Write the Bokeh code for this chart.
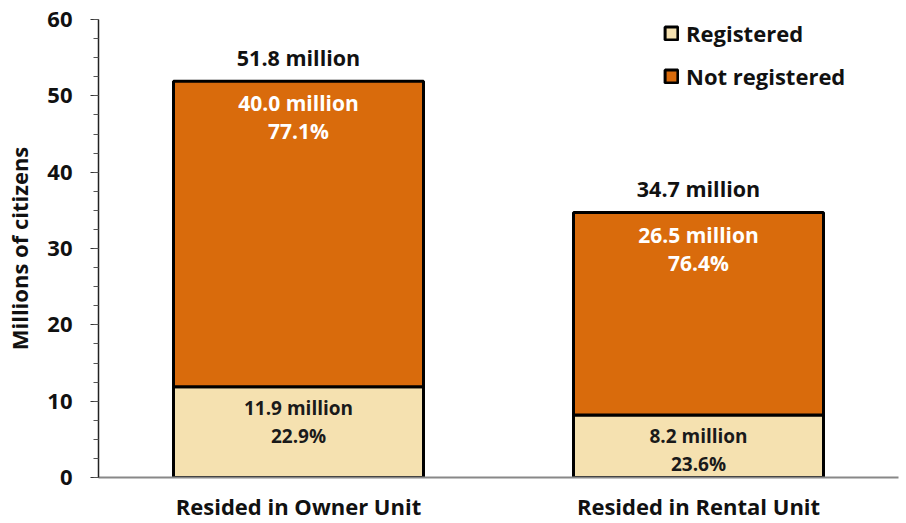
from bokeh.plotting import figure
from bokeh.models import ColumnDataSource, FactorRange, Range1d, SingleIntervalTicker, Legend
from bokeh.core.properties import value
from bokeh.embed import file_html
from bokeh.resources import INLINE

categories = ["Resided in Owner Unit", "Resided in Rental Unit"]
registered = [11.9, 8.2]
not_registered = [40.0, 26.5]
totals = [51.8, 34.7]
pct_registered = [22.9, 23.6]
pct_not_registered = [77.1, 76.4]
series_names = ["Registered", "Not registered"]
y_ticks = [0, 10, 20, 30, 40, 50, 60]

FONT = "Open Sans"
ORANGE = "#D96B0C"
LIGHT = "#F5E1B0"
DARK = "#111111"

src = ColumnDataSource(dict(
    cat=categories,
    registered=registered,
    not_registered=not_registered,
    top=[r + n for r, n in zip(registered, not_registered)],
    total_lbl=[f"{t:.1f} million" for t in totals],
    reg_lbl=[f"{v:.1f} million" for v in registered],
    reg_pct=[f"{v:.1f}%" for v in pct_registered],
    not_lbl=[f"{v:.1f} million" for v in not_registered],
    not_pct=[f"{v:.1f}%" for v in pct_not_registered],
))

p = figure(width=906, height=523, output_backend="svg", toolbar_location=None,
           x_range=FactorRange(*categories, range_padding=0),
           y_range=Range1d(y_ticks[0], y_ticks[-1]),
           min_border_left=98, min_border_right=8, min_border_top=19, min_border_bottom=44)
p.outline_line_color = None
p.xgrid.grid_line_color = None
p.ygrid.grid_line_color = None

rs = p.vbar_stack(["registered", "not_registered"], x="cat", width=0.625, source=src,
                  fill_color=[LIGHT, ORANGE], line_color="black", line_width=3)

legend = Legend(items=[(series_names[0], [rs[0]]), (series_names[1], [rs[1]])],
                location=(565, 386), orientation="vertical",
                glyph_width=16, glyph_height=16, label_height=30, label_standoff=7,
                spacing=13, padding=0, margin=0,
                border_line_alpha=0, background_fill_alpha=0,
                label_text_font=FONT, label_text_font_size="22px",
                label_text_font_style="bold", label_text_color=DARK)
p.add_layout(legend)

# y axis
p.yaxis.ticker = SingleIntervalTicker(interval=10, num_minor_ticks=4)
p.yaxis.axis_line_color = "#222222"
p.yaxis.axis_line_width = 1.5
p.yaxis.major_tick_line_color = "#333333"
p.yaxis.minor_tick_line_color = "#555555"
p.yaxis.major_tick_in = 0
p.yaxis.major_tick_out = 8
p.yaxis.minor_tick_in = 0
p.yaxis.minor_tick_out = 5
p.yaxis.major_label_standoff = 18
p.yaxis.major_label_text_font = FONT
p.yaxis.major_label_text_font_size = "22px"
p.yaxis.major_label_text_font_style = "bold"
p.yaxis.major_label_text_color = DARK
p.yaxis.axis_label = "Millions of citizens"
p.yaxis.axis_label_text_font = FONT
p.yaxis.axis_label_text_font_size = "22px"
p.yaxis.axis_label_text_font_style = "bold"
p.yaxis.axis_label_text_color = DARK
p.yaxis.axis_label_standoff = 10

# x axis
p.xaxis.axis_line_color = "#888888"
p.xaxis.axis_line_width = 2
p.xaxis.major_tick_line_color = None
p.xaxis.minor_tick_line_color = None
p.xaxis.major_tick_out = 0
p.xaxis.major_tick_in = 0
p.xaxis.major_label_standoff = 13
p.xaxis.major_label_text_font = FONT
p.xaxis.major_label_text_font_size = "22px"
p.xaxis.major_label_text_font_style = "bold"
p.xaxis.major_label_text_color = DARK

common = dict(x="cat", source=src, text_align="center", text_baseline="middle",
              text_font=value(FONT), text_font_style="bold")
p.text(y="top", text="total_lbl", y_offset=-24, text_color=DARK, text_font_size="21.5px", **common)
p.text(y="top", text="not_lbl", y_offset=22, text_color="white", text_font_size="21px", **common)
p.text(y="top", text="not_pct", y_offset=50, text_color="white", text_font_size="21px", **common)
p.text(y="registered", text="reg_lbl", y_offset=21, text_color="#1a1a1a", text_font_size="19px", **common)
p.text(y="registered", text="reg_pct", y_offset=49, text_color="#1a1a1a", text_font_size="19px", **common)

open("out.html", "w").write(file_html(p, INLINE))
